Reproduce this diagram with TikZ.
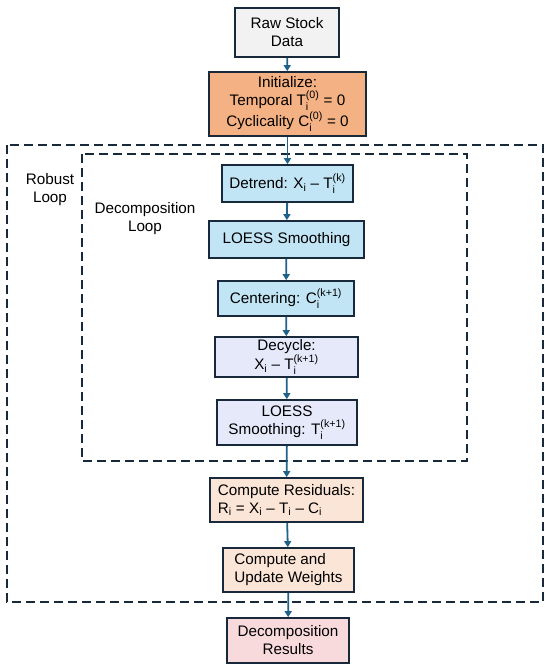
\documentclass[tikz,border=0pt]{standalone}
\usepackage{amsmath}
\usepackage{fontspec}
\setmainfont{Liberation Sans}
\usepackage{xcolor}
\definecolor{box-line}{HTML}{17293A}
\definecolor{arrow-blue}{HTML}{1F6289}
\definecolor{raw-gray}{HTML}{F2F2F2}
\definecolor{init-orange}{HTML}{F4B183}
\definecolor{step-blue}{HTML}{C1E5F5}
\definecolor{step-lilac}{HTML}{E6E9FA}
\definecolor{resid-peach}{HTML}{FBE5D6}
\definecolor{result-pink}{HTML}{F9DADC}
\newcommand{\sym}[3]{\ensuremath{\text{#1}_{\text{#2}}^{\text{#3}}}}
\newcommand{\symi}[2]{\ensuremath{\text{#1}_{\text{#2}}}}

\tikzset{
  stepbox/.style={draw=box-line, line width=1.7bp, align=center, inner sep=2bp,
                  font=\fontsize{15.3}{18}\selectfont},
  loopbox/.style={draw=box-line, line width=2.2bp, dash pattern=on 9bp off 5bp},
  flow/.style={-{Triangle[length=6bp,width=7bp]}, line width=1.8bp, color=arrow-blue},
  looplabel/.style={align=center, font=\fontsize{15.3}{18}\selectfont}
}
\usetikzlibrary{arrows.meta}

\begin{document}
\begin{tikzpicture}[x=1bp, y=-1bp]
    \useasboundingbox (0,0) rectangle (550,668);
    % loops
    \draw[loopbox] (7,145) rectangle (543,602);
    \draw[loopbox] (82,154) rectangle (467,461);
    \node[looplabel] (robust) at (50,190) {Robust\\Loop};
    \node[looplabel] (decomp) at (145,219) {Decomposition\\Loop};
    % steps
    \node[stepbox, fill=raw-gray, minimum width=104bp, minimum height=49bp]
      (raw) at (287,32.5) {Raw Stock\\Data};
    \node[stepbox, fill=init-orange, minimum width=157bp, minimum height=64bp]
      (init) at (287.5,104) {Initialize:\\Temporal \sym{T}{i}{(0)} = 0\\Cyclicality \sym{C}{i}{(0)} = 0};
    \node[stepbox, fill=step-blue, minimum width=131bp, minimum height=37bp]
      (detrend) at (287.5,183.5) {Detrend: \symi{X}{i} – \sym{T}{i}{(k)}};
    \node[stepbox, fill=step-blue, minimum width=155bp, minimum height=37bp]
      (loess) at (286.5,239.5) {LOESS Smoothing};
    \node[stepbox, fill=step-blue, minimum width=136bp, minimum height=35bp]
      (center) at (286,298.5) {Centering: \sym{C}{i}{(k+1)}};
    \node[stepbox, fill=step-lilac, minimum width=143bp, minimum height=40bp]
      (decycle) at (286.5,357) {Decycle:\\\symi{X}{i} – \sym{T}{i}{(k+1)}};
    \node[stepbox, fill=step-lilac, minimum width=140bp, minimum height=45bp]
      (trend) at (287,422.5) {LOESS\\Smoothing: \sym{T}{i}{(k+1)}};
    \node[stepbox, fill=resid-peach, minimum width=153bp, minimum height=44bp, align=left]
      (resid) at (286.5,500) {Compute Residuals:\\\symi{R}{i} = \symi{X}{i} – \symi{T}{i} – \symi{C}{i}};
    \node[stepbox, fill=resid-peach, minimum width=131bp, minimum height=44bp, align=left]
      (weights) at (288.5,570) {Compute and\\Update Weights};
    \node[stepbox, fill=result-pink, minimum width=122bp, minimum height=45bp]
      (result) at (288,640.5) {Decomposition\\Results};
    % arrows
    \draw[flow] (raw) -- (init);
    \draw[flow] (init) -- (detrend);
    \draw[flow] (detrend) -- (loess);
    \draw[flow] (loess) -- (center);
    \draw[flow] (center) -- (decycle);
    \draw[flow] (decycle) -- (trend);
    \draw[flow] (trend) -- (resid);
    \draw[flow] (resid) -- (weights);
    \draw[flow] (weights) -- (result);
\end{tikzpicture}
\end{document}
